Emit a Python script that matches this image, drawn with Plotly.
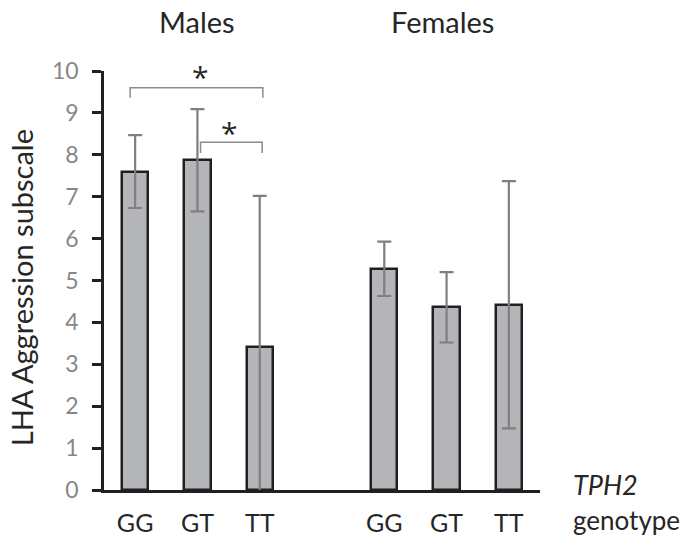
import plotly.graph_objects as go

genotypes = ["GG", "GT", "TT"]
male_means = [7.6, 7.87, 3.42]
male_err = [0.87, 1.22, 3.6]
female_means = [5.28, 4.36, 4.42]
female_err = [0.65, 0.84, 2.95]
ytick_vals = list(range(0, 11))

male_x = [0, 1, 2]
female_x = [4, 5, 6]

bar_fill = "#b4b5b9"
bar_line = "#231f20"
err_col = "#7f7f7f"
font_fam = "Lato, 'Open Sans', sans-serif"
dark = "#262626"

fig = go.Figure()
fig.add_trace(go.Bar(
    x=male_x, y=male_means, width=0.42,
    marker=dict(color=bar_fill, line=dict(color=bar_line, width=2.5)),
    error_y=dict(type="data", array=male_err, color=err_col, thickness=2.2, width=7),
    showlegend=False,
))
fig.add_trace(go.Bar(
    x=female_x, y=female_means, width=0.42,
    marker=dict(color=bar_fill, line=dict(color=bar_line, width=2.5)),
    error_y=dict(type="data", array=female_err, color=err_col, thickness=2.2, width=7),
    showlegend=False,
))

# significance brackets
br_col = "#8c8c8c"
fig.add_shape(type="path", path="M -0.08 9.36 L -0.08 9.6 L 2.05 9.6 L 2.05 9.36",
              line=dict(color=br_col, width=1.5), xref="x", yref="y")
fig.add_shape(type="path", path="M 1.05 8.04 L 1.05 8.3 L 2.04 8.3 L 2.04 8.04",
              line=dict(color=br_col, width=1.5), xref="x", yref="y")
fig.add_annotation(x=1.05, y=9.87, text="*", showarrow=False, xref="x", yref="y",
                   xanchor="center", yanchor="middle",
                   font=dict(size=30, color=dark, family="'Open Sans', sans-serif"))
fig.add_annotation(x=1.52, y=8.53, text="*", showarrow=False, xref="x", yref="y",
                   xanchor="center", yanchor="middle",
                   font=dict(size=30, color=dark, family="'Open Sans', sans-serif"))

# group titles
fig.add_annotation(x=1.0, y=1.117, text="Males", showarrow=False, xref="x", yref="paper",
                   xanchor="center", yanchor="middle",
                   font=dict(size=29, color=dark, family=font_fam))
fig.add_annotation(x=4.93, y=1.117, text="Females", showarrow=False, xref="x", yref="paper",
                   xanchor="center", yanchor="middle",
                   font=dict(size=29, color=dark, family=font_fam))

# axis labels
fig.add_annotation(x=1.07, y=0.014, text="<i>TPH2</i>", showarrow=False, xref="paper", yref="paper",
                   xanchor="left", yanchor="middle", font=dict(size=27, color=dark, family=font_fam))
fig.add_annotation(x=1.07, y=-0.072, text="genotype", showarrow=False, xref="paper", yref="paper",
                   xanchor="left", yanchor="middle", font=dict(size=26, color=dark, family=font_fam))
fig.add_annotation(x=-0.19, y=0.482, text="LHA Aggression subscale", showarrow=False,
                   xref="paper", yref="paper", textangle=-90, xanchor="center", yanchor="middle",
                   font=dict(size=29, color=dark, family=font_fam))

fig.update_layout(
    width=687, height=537,
    margin=dict(l=104, r=147, t=71, b=47),
    plot_bgcolor="white", paper_bgcolor="white",
    bargap=0,
)
fig.update_xaxes(
    range=[-0.5, 6.5], tickvals=male_x + female_x, ticktext=genotypes + genotypes,
    showline=True, linecolor=bar_line, linewidth=2.5, ticks="", showgrid=False, zeroline=False,
    tickfont=dict(size=25, color=dark, family=font_fam), ticklabelstandoff=9, automargin=False,
)
fig.update_yaxes(
    range=[0, 10], tickvals=ytick_vals,
    showline=True, linecolor=bar_line, linewidth=2.5, ticks="outside", ticklen=9,
    tickcolor=bar_line, tickwidth=2.5, showgrid=False, zeroline=False,
    tickfont=dict(size=23, color="#878787", family=font_fam), ticklabelstandoff=9, automargin=False,
)

# remove the default page margin so the figure fills the window exactly
fig.write_html("out.html", config={"displayModeBar": False},
               post_script="document.body.style.margin='0';")
